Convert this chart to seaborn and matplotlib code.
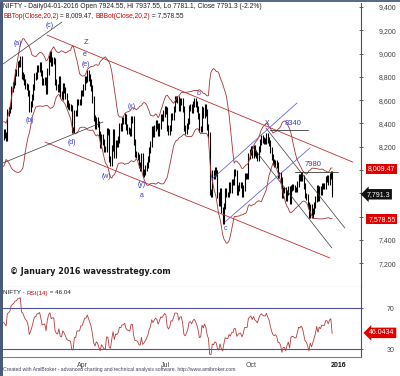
import numpy as np
import pandas as pd
import matplotlib
matplotlib.use("Agg")
import matplotlib.pyplot as plt
import seaborn as sns

# ---- data (daily closes) ----
# Dec 15 2014 .. Jan 9 2015, only used to warm up the indicators (off screen)
warmup_close = [8220, 8067, 8029, 8159, 8225,
                8324, 8174, 8174, 8174, 8200,
                8246, 8248, 8283, 8284, 8395,
                8378, 8127, 8102, 8234, 8285]

# Jan 12 2015 .. Jan 4 2016, one row per week
close_2015 = [
    8323, 8299, 8277, 8494, 8513,
    8550, 8695, 8729, 8761, 8836,
    8836, 8910, 8914, 8952, 8809,
    8797, 8756, 8723, 8711, 8661,
    8526, 8565, 8627, 8711, 8805,
    8809, 8869, 8869, 8895, 8833,
    8754, 8762, 8767, 8683, 8844,
    8956, 8996, 8922, 8938, 8937,
    8756, 8712, 8699, 8776, 8647,
    8633, 8723, 8686, 8635, 8571,
    8550, 8542, 8531, 8342, 8341,
    8492, 8491, 8586, 8586, 8586,
    8660, 8660, 8714, 8778, 8780,
    8834, 8793, 8750, 8706, 8607,
    8448, 8377, 8429, 8398, 8305,
    8213, 8285, 8239, 8181, 8181,
    8331, 8324, 8097, 8057, 8191,
    8325, 8127, 8235, 8224, 8262,
    8373, 8365, 8424, 8421, 8458,
    8370, 8339, 8334, 8319, 8433,
    8433, 8237, 8135, 8130, 8114,
    8044, 8021, 8124, 7965, 7983,
    8014, 8047, 8092, 8175, 8225,
    8353, 8311, 8360, 8399, 8381,
    8318, 8377, 8453, 8445, 8484,
    8522, 8510, 8363, 8329, 8361,
    8460, 8454, 8523, 8608, 8609,
    8604, 8530, 8589, 8589, 8521,
    8361, 8337, 8375, 8421, 8532,
    8543, 8516, 8567, 8589, 8564,
    8525, 8462, 8349, 8355, 8518,
    8477, 8540, 8495, 8372, 8300,
    7809, 7791, 7971, 7949, 8001,
    7971, 7786, 7717, 7823, 7655,
    7558, 7688, 7819, 7789, 7789,
    7872, 7829, 7899, 7899, 7982,
    7977, 7812, 7845, 7868, 7868,
    7795, 7843, 7948, 7950, 7950,
    8119, 8152, 8177, 8129, 8189,
    8143, 8131, 8107, 8179, 8238,
    8275, 8261, 8251, 8251, 8295,
    8260, 8233, 8171, 8111, 8065,
    8050, 8060, 8040, 7955, 7954,
    7915, 7783, 7825, 7825, 7762,
    7807, 7837, 7732, 7843, 7856,
    7849, 7832, 7832, 7883, 7942,
    7935, 7954, 7931, 7864, 7781,
    7765, 7701, 7612, 7683, 7610,
    7650, 7700, 7750, 7844, 7761,
    7834, 7814, 7865, 7861, 7861,
    7925, 7928, 7896, 7946, 7963,
    7791,
]

price_ticks = [7200, 7400, 7600, 7800, 8000, 8200, 8400, 8600, 8800, 9000, 9200, 9400]
hidden_ticks = [7600, 7800, 8000]   # covered by the value boxes
month_labels = ["Apr", "Jul", "Oct", "2016"]
month_starts = ["2015-04-01", "2015-07-01", "2015-10-01", "2016-01-01"]

# trendlines drawn on the chart: (bar index pair, price pair)
red_upper = ([33.7, 271.0], [9159, 8068])
red_lower = ([32.2, 253.3], [8240, 7244])
black_ac = ([-0.4, 45.4], [8910, 9271])
black_d = ([-0.4, 77.2], [8060, 8412])
blue_upper = ([161.8, 227.7], [7922, 8575])
blue_lower = ([171.8, 237.8], [7553, 8189])
black_x1 = ([203.6, 264.9], [8361, 7501])
black_x2 = ([192.8, 254.8], [8206, 7330])
level_8340 = ([206.7, 236.2], [8340, 8340])
level_7980 = ([226.1, 259.5], [7980, 7980])

wave_labels = [("(a)", 11.2, 9082), ("(b)", 20.6, 8429), ("(c)", 36.1, 9237),
               ("Z", 64.0, 9091), ("e", 63.2, 8988), ("(e)", 64.0, 8902),
               ("(d)", 53.1, 8240), ("(w)", 79.5, 7948), ("(x)", 99.7, 8541),
               ("(y)", 107.4, 7879), ("a", 107.4, 7785), ("b", 150.9, 8661),
               ("c", 172.6, 7501), ("X", 204.4, 8403),
               ("8340", 224.6, 8395), ("7980", 240.0, 8051)]

bb_top_last = 8009.47
bb_bot_last = 7578.55
last_close = 7791.3
rsi_last = 46.04

# ---- build frame + indicators ----
closes = warmup_close + close_2015
df = pd.DataFrame({"date": pd.bdate_range("2014-12-15", periods=len(closes)),
                   "close": closes})
df["idx"] = np.arange(len(df)) - len(warmup_close)
df["open"] = df["close"].shift(1).fillna(df["close"])
wick = 0.0032 * df["close"]
df["high"] = df[["open", "close"]].max(axis=1) + wick
df["low"] = df[["open", "close"]].min(axis=1) - wick

mid = df["close"].rolling(20).mean()
sd = df["close"].rolling(20).std(ddof=0)
df["bb_top"] = mid + 2 * sd
df["bb_bot"] = mid - 2 * sd

delta = df["close"].diff()
gain = delta.clip(lower=0).ewm(alpha=1 / 14, adjust=True).mean()
loss = (-delta.clip(upper=0)).ewm(alpha=1 / 14, adjust=True).mean()
df["rsi"] = 100 - 100 / (1 + gain / loss)

view = df[df["idx"] >= 0]

sns.set_style("white")
plt.rcParams["font.family"] = ["Liberation Sans", "DejaVu Sans"]

W, H = 400, 376
fig = plt.figure(figsize=(4, 3.76), dpi=100)
ax = fig.add_axes([3 / W, (H - 287) / H, 358 / W, 284 / H])
ax_rsi = fig.add_axes([3 / W, (H - 357) / H, 358 / W, 70 / H])

red = "#c03030"
bb_col = "#a83232"
blue = "#3a3acc"
grey_txt = "#404040"

# price bars
ax.vlines(view["idx"], view["low"], view["high"], color="black", lw=0.8)

# bollinger bands
sns.lineplot(data=view, x="idx", y="bb_top", ax=ax, color=bb_col, lw=0.6)
sns.lineplot(data=view, x="idx", y="bb_bot", ax=ax, color=bb_col, lw=0.6)

for xs, ys in [red_upper, red_lower]:
    ax.plot(xs, ys, color=red, lw=0.6)
for xs, ys in [black_ac, black_d, black_x1, black_x2]:
    ax.plot(xs, ys, color="#383838", lw=0.5)
for xs, ys in [blue_upper, blue_lower]:
    ax.plot(xs, ys, color="#5a5ad6", lw=0.55)
for xs, ys in [level_8340, level_7980]:
    ax.plot(xs, ys, color="#383838", lw=0.6)

for txt, xi, yp in wave_labels:
    fs = 5.5 if txt in ("Z", "8340", "7980") else 5
    ax.text(xi, yp, txt, color=blue, fontsize=fs, ha="center", va="center")

ax.set_xlim(-0.4, 277.4)
ax.set_ylim(6995, 9434)
ax.set_xlabel("")
ax.set_ylabel("")
ax.set_xticks([])
ax.yaxis.tick_right()
ax.set_yticks(price_ticks)
ax.set_yticklabels(["" if v in hidden_ticks else f"{v:,}" for v in price_ticks])
ax.tick_params(axis="y", direction="inout", length=3, pad=11.5, labelsize=5,
               colors=grey_txt, width=0.6)
for s in ["left", "top"]:
    ax.spines[s].set_visible(False)
ax.spines["right"].set_color("#505050")
ax.spines["right"].set_linewidth(0.8)
ax.spines["bottom"].set_color("#a0a0a0")
ax.spines["bottom"].set_linewidth(0.8)

# header lines
ax.text(0.0, 1 - 4 / 284,
        "NIFTY - Daily04-01-2016 Open 7924.55, Hi 7937.55, Lo 7781.1, Close 7791.3 (-2.2%)",
        transform=ax.transAxes, fontsize=4.85, color="#202020", va="center")
parts = [("BBTop(Close,20,2)", "#d00000"), (" = 8,009.47, ", "#202020"),
         ("BBBot(Close,20,2)", "#d00000"), (" = 7,578.55", "#202020")]
prev = ax.text(0.0, 1 - 13 / 284, parts[0][0], transform=ax.transAxes,
               fontsize=4.8, color=parts[0][1], va="center")
for txt, col in parts[1:]:
    prev = ax.annotate(txt, xy=(1, 0.5), xycoords=prev, fontsize=4.8,
                       color=col, va="center")

ax.text(7 / 358, 1 - (272 - 3) / 284, "\u00a9 January 2016 wavesstrategy.com",
        transform=ax.transAxes, fontsize=5.8, fontweight="bold",
        family="DejaVu Sans", color="#1a1a1a", va="center")

# right-hand value boxes
ytr = ax.get_yaxis_transform()
for val, txt, fc, style, off in [(bb_top_last, "8,009.47", "#e00000", "square,pad=0.25", 15),
                                 (bb_bot_last, "7,578.55", "#e00000", "square,pad=0.25", 15),
                                 (last_close, "7,791.3", "#111111", "larrow,pad=0.25", 12.5)]:
    ax.annotate(txt, xy=(1, val), xycoords=ytr, xytext=(off, 0),
                textcoords="offset points", ha="center", va="center",
                fontsize=5, color="white", annotation_clip=False, zorder=10,
                bbox=dict(boxstyle=style, fc=fc, ec="none"))

# ---- RSI panel ----
sns.lineplot(data=view, x="idx", y="rsi", ax=ax_rsi, color="#b83c3c", lw=0.6)
ax_rsi.axhline(70, color="#5050a0", lw=0.8)
ax_rsi.axhline(30, color="#5050a0", lw=0.8)
ax_rsi.set_xlim(-0.4, 277.4)
ax_rsi.set_ylim(22.5, 90.8)
ax_rsi.set_xlabel("")
ax_rsi.set_ylabel("")
ax_rsi.yaxis.tick_right()
ax_rsi.set_yticks([30, 70])
ax_rsi.set_yticklabels(["30", "70"])
ax_rsi.tick_params(axis="y", direction="inout", length=3, pad=17, labelsize=5,
                   colors=grey_txt, width=0.6)

tick_idx = [int(view.loc[view["date"] >= pd.Timestamp(d), "idx"].iloc[0]) for d in month_starts]
ax_rsi.set_xticks(tick_idx)
ax_rsi.set_xticklabels(month_labels)
ax_rsi.tick_params(axis="x", direction="out", length=3, pad=0.5, labelsize=5,
                   colors=grey_txt, width=0.6)
for lbl in ax_rsi.get_xticklabels():
    lbl.set_ha("left")
ax_rsi.get_xticklabels()[-1].set_fontweight("bold")
ax_rsi.get_xticklabels()[-1].set_color("#101010")
for s in ["left", "top"]:
    ax_rsi.spines[s].set_visible(False)
ax_rsi.spines["right"].set_color("#505050")
ax_rsi.spines["right"].set_linewidth(0.8)
ax_rsi.spines["bottom"].set_color("#808080")
ax_rsi.spines["bottom"].set_linewidth(0.8)

r0 = ax_rsi.text(0.0, 1 - 6 / 70, "NIFTY - ", transform=ax_rsi.transAxes,
                 fontsize=4.5, color="#202020", va="center")
r1 = ax_rsi.annotate("RSI(14)", xy=(1, 0.5), xycoords=r0, fontsize=4.5,
                     color="#d00000", va="center")
ax_rsi.annotate(" = 46.04", xy=(1, 0.5), xycoords=r1, fontsize=4.5,
                color="#202020", va="center")
ax_rsi.annotate("46.0434", xy=(1, rsi_last), xycoords=ax_rsi.get_yaxis_transform(),
                xytext=(15, 0), textcoords="offset points", ha="center", va="center",
                fontsize=5, color="white", annotation_clip=False, zorder=10,
                bbox=dict(boxstyle="larrow,pad=0.25", fc="#e00000", ec="none"))

fig.text(3 / W, 1 - 370 / H,
         "Created with AmiBroker - advanced charting and technical analysis software. http://www.amibroker.com",
         fontsize=3.6, color="#404060", va="center")

# window frame on the left / top
fig.add_artist(plt.Rectangle((0, 0), 2.5 / W, 1, transform=fig.transFigure,
                             color="#4a5a7a", lw=0))
fig.add_artist(plt.Rectangle((0, 1 - 1.5 / H), 1, 1.5 / H, transform=fig.transFigure,
                             color="#5a6a8a", lw=0))

fig.savefig("out.png", dpi=100)
plt.close(fig)
